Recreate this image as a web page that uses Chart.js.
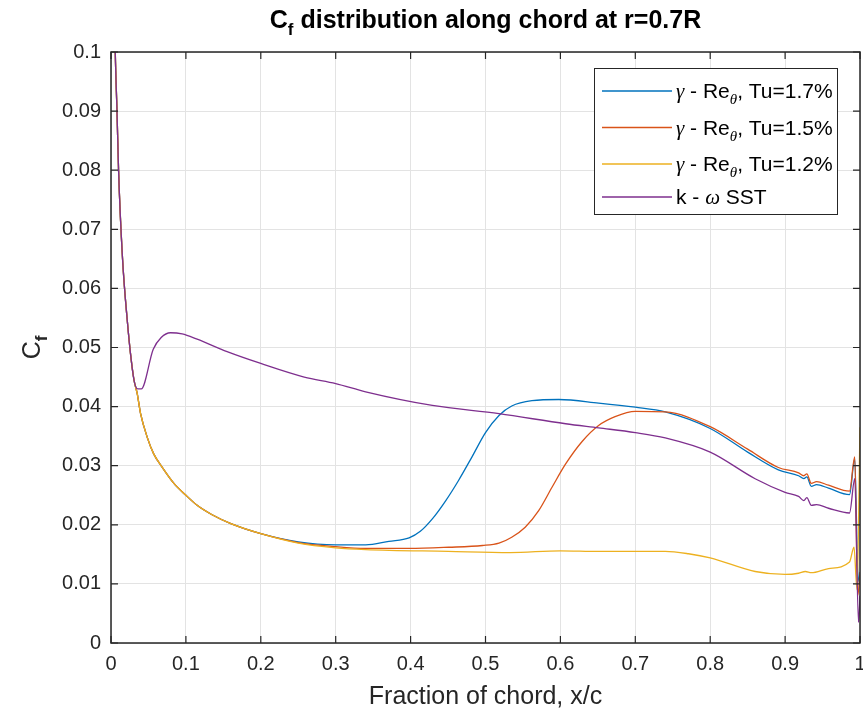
<!DOCTYPE html>
<html>
<head>
<meta charset="utf-8">
<script src="https://cdn.jsdelivr.net/npm/chart.js@4"></script>
<style>
  body{margin:0;background:#fff;}
  canvas{display:block;}
</style>
</head>
<body>
<canvas id="myChart" width="863" height="715"></canvas>
<script>
// tick values
const xTicks=[0,0.1,0.2,0.3,0.4,0.5,0.6,0.7,0.8,0.9,1];
const yTicks=[0,0.01,0.02,0.03,0.04,0.05,0.06,0.07,0.08,0.09,0.1];

// leading edge, shared by every curve
const leX=[0.0052,0.0057,0.008,0.0101,0.0128,0.0164,0.0217,0.026,0.0307];
const leY=[0.104,0.1,0.09,0.08,0.0714,0.063,0.0546,0.049,0.0445];

// gamma-Re_theta laminar part (all three Tu)
const lamX=[0.035,0.0395,0.0484,0.057,0.068,0.084,0.1,0.115,0.135,0.16,0.2];
const lamY=[0.0422,0.0388,0.0348,0.032,0.0298,0.027,0.025,0.0233,0.0217,0.0202,0.0185];

// Tu=1.7%
const tu17X=[0.25,0.3,0.34,0.371,0.398,0.413,0.429,0.447,0.464,0.482,0.5,0.518,0.535,0.562,0.598,0.651,0.7,0.74,0.8,0.85,0.891,0.918,0.925,0.929,0.935,0.942,0.958,0.986,0.993,0.997,1.0];
const tu17Y=[0.0171,0.0166,0.0166,0.0172,0.0178,0.0189,0.021,0.0241,0.0275,0.0315,0.0356,0.0385,0.0401,0.041,0.0412,0.0406,0.0399,0.0391,0.0363,0.0323,0.0293,0.0283,0.0278,0.0281,0.0265,0.0268,0.0262,0.0251,0.0312,0.012,0.01];

// Tu=1.5%
const tu15X=[0.25,0.3,0.34,0.398,0.451,0.496,0.518,0.535,0.553,0.571,0.589,0.607,0.629,0.651,0.673,0.7,0.74,0.8,0.85,0.891,0.918,0.925,0.929,0.935,0.942,0.958,0.986,0.993,0.997,1.0];
const tu15Y=[0.017,0.0163,0.016,0.016,0.0162,0.0165,0.0169,0.0179,0.0196,0.0224,0.0264,0.0303,0.0341,0.0368,0.0383,0.0392,0.0391,0.0366,0.0328,0.0297,0.0288,0.0283,0.0286,0.027,0.0273,0.0267,0.0257,0.0315,0.008,0.012];

// Tu=1.2%
const tu12X=[0.25,0.3,0.34,0.45,0.533,0.6,0.651,0.7,0.74,0.771,0.8,0.86,0.9,0.918,0.927,0.935,0.958,0.986,0.992,0.996,1.0];
const tu12Y=[0.0169,0.0161,0.0158,0.0155,0.0153,0.0156,0.0155,0.0155,0.0155,0.0151,0.0144,0.0121,0.0116,0.0118,0.0121,0.0119,0.0126,0.0137,0.0162,0.009,0.0365];

// k-omega SST
const sstX=[0.0355,0.0404,0.0564,0.067,0.0795,0.095,0.115,0.155,0.2,0.258,0.3,0.34,0.429,0.518,0.607,0.651,0.7,0.74,0.8,0.86,0.9,0.918,0.925,0.929,0.935,0.942,0.958,0.986,0.993,0.998,1.0];
const sstY=[0.043,0.043,0.0497,0.0517,0.0525,0.0523,0.0514,0.0493,0.0473,0.045,0.0439,0.0425,0.0402,0.0388,0.0371,0.0364,0.0356,0.0347,0.0323,0.0278,0.0255,0.0248,0.0241,0.0246,0.0233,0.0234,0.0228,0.022,0.0278,0.0035,0.008];

const colors=['#0072BD','#D95319','#EDB120','#7E2F8E'];
const legendTu=['1.7','1.5','1.2'];

const pts=(xs,ys)=>xs.map((x,i)=>({x:x,y:ys[i]}));
const curve=(xs,ys)=>pts(leX,leY).concat(pts(lamX,lamY),pts(xs,ys));

const FONT='"Liberation Sans", Arial, sans-serif';
const AX='#262626';

function drawParts(ctx,parts,x,y,align){
  let w=0;
  parts.forEach(p=>{ctx.font=p.f;w+=ctx.measureText(p.t).width;});
  let cx=align==='center'?x-w/2:x;
  parts.forEach(p=>{
    ctx.font=p.f;
    ctx.fillText(p.t,cx,y+(p.dy||0));
    cx+=ctx.measureText(p.t).width;
  });
}

const decor={
  id:'decor',
  afterDraw(chart){
    const ctx=chart.ctx, a=chart.chartArea;
    const xs=chart.scales.x, ys=chart.scales.y;
    ctx.save();
    // box and inward ticks
    ctx.strokeStyle=AX;
    ctx.lineWidth=1.5;
    ctx.strokeRect(a.left,a.top,a.right-a.left,a.bottom-a.top);
    ctx.lineWidth=1.2;
    ctx.beginPath();
    xTicks.forEach(v=>{
      const p=xs.getPixelForValue(v);
      ctx.moveTo(p,a.bottom);ctx.lineTo(p,a.bottom-7);
      ctx.moveTo(p,a.top);ctx.lineTo(p,a.top+7);
    });
    yTicks.forEach(v=>{
      const p=ys.getPixelForValue(v);
      ctx.moveTo(a.left,p);ctx.lineTo(a.left+7,p);
      ctx.moveTo(a.right,p);ctx.lineTo(a.right-7,p);
    });
    ctx.stroke();

    ctx.fillStyle='#000';
    ctx.textBaseline='alphabetic';
    // title
    drawParts(ctx,[
      {t:'C',f:'bold 25px '+FONT},
      {t:'f',f:'bold 17px '+FONT,dy:7},
      {t:' distribution along chord at r=0.7R',f:'bold 25px '+FONT}
    ],(a.left+a.right)/2,28,'center');

    // x label
    ctx.fillStyle=AX;
    drawParts(ctx,[{t:'Fraction of chord, x/c',f:'25px '+FONT}],(a.left+a.right)/2,704,'center');

    // y label
    ctx.save();
    ctx.translate(40,(a.top+a.bottom)/2);
    ctx.rotate(-Math.PI/2);
    drawParts(ctx,[
      {t:'C',f:'25px '+FONT},
      {t:'f',f:'bold 17px '+FONT,dy:7}
    ],0,0,'center');
    ctx.restore();

    // legend
    const lx=594.5, ly=68.5, lw=243, lh=146;
    ctx.fillStyle='#fff';
    ctx.fillRect(lx,ly,lw,lh);
    ctx.strokeStyle=AX;
    ctx.lineWidth=1;
    ctx.strokeRect(lx,ly,lw,lh);
    const rows=[91,127.5,164,197];
    ctx.lineWidth=1.3;
    rows.forEach((ry,i)=>{
      ctx.strokeStyle=colors[i];
      ctx.beginPath();ctx.moveTo(602,ry);ctx.lineTo(672,ry);ctx.stroke();
      ctx.fillStyle='#000';
      const base=ry+7;
      if(i<3){
        drawParts(ctx,[
          {t:'\u03b3',f:'italic 21px "Liberation Serif", serif'},
          {t:' - Re',f:'21px '+FONT},
          {t:'\u03b8',f:'italic 15px "Liberation Serif", serif',dy:6},
          {t:', Tu='+legendTu[i]+'%',f:'21px '+FONT}
        ],676,base,'left');
      }else{
        drawParts(ctx,[
          {t:'k - ',f:'21px '+FONT},
          {t:'\u03c9',f:'italic 21px "Liberation Serif", serif'},
          {t:' SST',f:'21px '+FONT}
        ],676,base,'left');
      }
    });
    ctx.restore();
  }
};

const ds=(data,c,order)=>({data:data,borderColor:c,borderWidth:1.3,pointRadius:0,showLine:true,fill:false,cubicInterpolationMode:'monotone',order:order,clip:0});

new Chart(document.getElementById('myChart').getContext('2d'),{
  type:'scatter',
  data:{datasets:[
    ds(curve(tu17X,tu17Y),colors[0],4),
    ds(curve(tu15X,tu15Y),colors[1],3),
    ds(curve(tu12X,tu12Y),colors[2],2),
    ds(pts(leX,leY).concat(pts(sstX,sstY)),colors[3],1)
  ]},
  options:{
    responsive:false,
    animation:false,
    devicePixelRatio:1,
    layout:{padding:{top:52,right:3,left:0,bottom:0}},
    plugins:{legend:{display:false},tooltip:{enabled:false}},
    scales:{
      x:{
        type:'linear',min:0,max:1,
        afterBuildTicks:s=>{s.ticks=xTicks.map(v=>({value:v}));},
        afterFit:s=>{s.height=72;s.paddingLeft=0;s.paddingRight=0;},
        ticks:{callback:v=>String(v),font:{size:20,family:FONT},color:AX,padding:9,maxRotation:0,autoSkip:false},
        grid:{color:'#e3e3e3',drawTicks:false},
        border:{display:false}
      },
      y:{
        type:'linear',min:0,max:0.1,
        afterBuildTicks:s=>{s.ticks=yTicks.map(v=>({value:v}));},
        afterFit:s=>{s.width=111;s.paddingTop=0;s.paddingBottom=0;},
        ticks:{callback:v=>String(v),font:{size:20,family:FONT},color:AX,padding:10,autoSkip:false},
        grid:{color:'#e3e3e3',drawTicks:false},
        border:{display:false}
      }
    }
  },
  plugins:[decor]
});
</script>
</body>
</html>
